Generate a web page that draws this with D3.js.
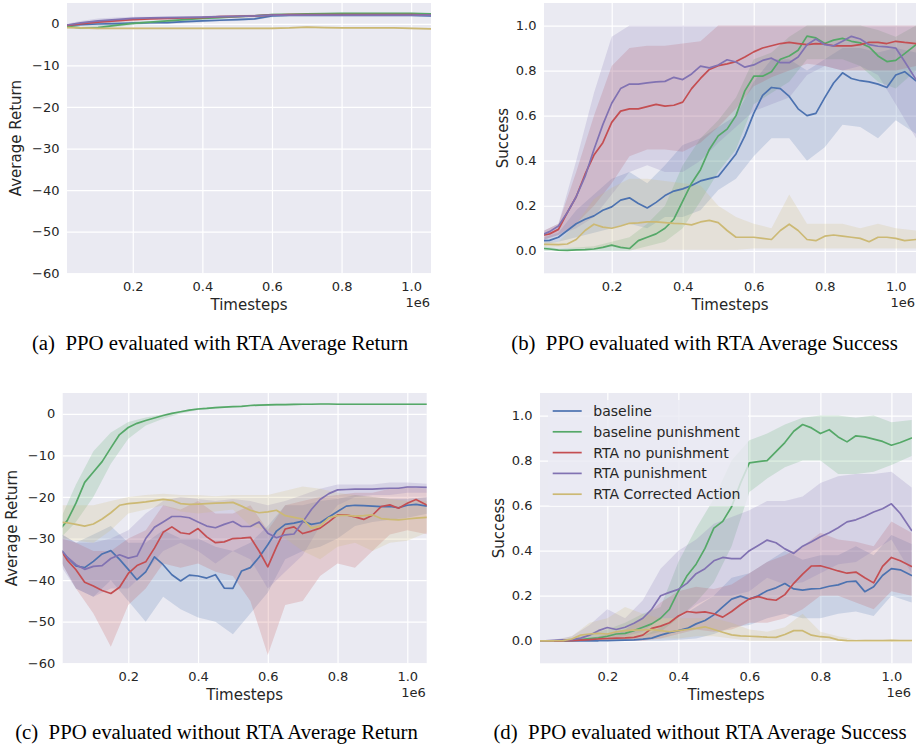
<!DOCTYPE html>
<html><head><meta charset="utf-8">
<script src="https://cdn.jsdelivr.net/npm/d3@7"></script>
<style>
body{margin:0;background:#fff;}
svg text{font-family:"DejaVu Sans",sans-serif;fill:#262626;}
</style>
</head><body>
<svg id="chart" width="916" height="747"></svg>
<script>
// ---------------- DATA ----------------
const seriesNames = ["baseline","baseline punishment","RTA no punishment","RTA punishment","RTA Corrected Action"];
const seriesColors = ["#4C72B0","#55A868","#C44E52","#8172B2","#CCB974"];
const xTickValues = [0.2,0.4,0.6,0.8,1.0];
const returnTicks = [0,-10,-20,-30,-40,-50,-60];
const successTicks = [0.0,0.2,0.4,0.6,0.8,1.0];
const captions = ["(a)\u00A0 PPO evaluated with RTA Average Return","(b)\u00A0 PPO evaluated with RTA Average Success",
                  "(c)\u00A0 PPO evaluated without RTA Average Return","(d)\u00A0 PPO evaluated without RTA Average Success"];

// timesteps (x 1e6)
const xCoarse = [0.01,0.05,0.1,0.15,0.2,0.25,0.3,0.35,0.4,0.45,0.5,0.55,0.6,0.65,0.7,0.75,0.8,0.85,0.9,0.95,1.0,1.057];
const xFine = [0.01,0.025,0.05,0.075,0.1,0.125,0.15,0.175,0.2,0.225,0.25,0.275,0.3,0.325,0.35,0.375,0.4,0.425,0.45,0.475,0.5,0.525,0.55,0.575,0.6,0.625,0.65,0.675,0.7,0.725,0.75,0.775,0.8,0.825,0.85,0.875,0.9,0.925,0.95,0.975,1.0,1.025,1.057];

// (a) with RTA, average return  (x = xCoarse)
const aBase    = [-0.4,-0.2,-0.05,0.05,0.15,0.25,0.3,0.5,0.7,0.85,1.0,1.2,1.9,2.0,2.0,2.0,2.0,2.0,2.0,2.0,2.0,1.9];
const aBaseLo  = [-0.6,-0.5,-0.4,-0.3,-0.2,-0.1,0.0,0.2,0.4,0.6,0.7,0.9,1.6,1.8,1.8,1.8,1.8,1.8,1.8,1.8,1.8,1.7];
const aBaseHi  = [-0.2,0.1,0.3,0.4,0.5,0.6,0.6,0.8,1.0,1.1,1.3,1.5,2.2,2.2,2.2,2.2,2.2,2.2,2.2,2.2,2.2,2.1];
const aPun     = [-0.6,-1.0,-0.9,-0.4,0.1,0.4,0.7,1.0,1.3,1.5,1.7,1.9,2.2,2.3,2.4,2.45,2.5,2.5,2.5,2.5,2.5,2.4];
const aPunLo   = [-0.8,-1.3,-1.3,-0.8,-0.3,0.1,0.4,0.7,1.0,1.2,1.5,1.7,2.0,2.1,2.2,2.3,2.35,2.35,2.35,2.35,2.35,2.25];
const aPunHi   = [-0.4,-0.7,-0.5,0.0,0.5,0.7,1.0,1.3,1.6,1.8,1.9,2.1,2.4,2.5,2.6,2.6,2.65,2.65,2.65,2.65,2.65,2.55];
const aNoPun   = [-0.4,0.0,0.4,0.7,1.0,1.2,1.3,1.4,1.5,1.7,1.8,1.9,2.1,2.2,2.2,2.2,2.2,2.2,2.2,2.2,2.2,2.1];
const aNoPunLo = [-0.7,-0.4,0.0,0.3,0.6,0.9,1.0,1.1,1.2,1.4,1.5,1.6,1.8,1.9,1.9,1.9,1.9,1.9,1.9,1.9,1.9,1.8];
const aNoPunHi = [-0.1,0.4,0.8,1.1,1.4,1.5,1.6,1.7,1.8,2.0,2.1,2.2,2.4,2.5,2.5,2.5,2.5,2.5,2.5,2.5,2.5,2.4];
const aRtaPun   = [-0.3,0.2,0.7,1.0,1.3,1.4,1.5,1.55,1.6,1.7,1.8,1.9,2.1,2.1,2.1,2.1,2.1,2.1,2.1,2.1,2.1,2.1];
const aRtaPunLo = [-0.6,-0.3,0.1,0.5,0.9,1.1,1.2,1.3,1.35,1.45,1.55,1.65,1.85,1.85,1.85,1.85,1.85,1.85,1.85,1.85,1.85,1.85];
const aRtaPunHi = [0.0,0.7,1.3,1.5,1.7,1.7,1.8,1.8,1.85,1.95,2.05,2.15,2.35,2.35,2.35,2.35,2.35,2.35,2.35,2.35,2.35,2.35];
const aCorr    = [-0.9,-1.0,-1.1,-1.1,-1.1,-1.1,-1.1,-1.1,-1.1,-1.1,-1.1,-1.1,-1.1,-1.0,-0.8,-0.9,-1.0,-1.0,-1.0,-1.0,-1.1,-1.2];
const aCorrLo  = [-1.1,-1.2,-1.3,-1.3,-1.3,-1.3,-1.3,-1.3,-1.3,-1.3,-1.3,-1.3,-1.3,-1.2,-1.0,-1.1,-1.2,-1.2,-1.2,-1.2,-1.3,-1.4];
const aCorrHi  = [-0.7,-0.8,-0.9,-0.9,-0.9,-0.9,-0.9,-0.9,-0.9,-0.9,-0.9,-0.9,-0.9,-0.8,-0.6,-0.7,-0.8,-0.8,-0.8,-0.8,-0.9,-1.0];

// (b) with RTA, success  (mean x = xFine, band x = xCoarse)
const bBase   = [0.045,0.046,0.06,0.09,0.12,0.14,0.155,0.18,0.195,0.225,0.235,0.21,0.19,0.215,0.245,0.265,0.275,0.29,0.31,0.32,0.33,0.38,0.43,0.51,0.61,0.69,0.725,0.72,0.685,0.63,0.60,0.61,0.68,0.745,0.79,0.765,0.755,0.75,0.74,0.725,0.78,0.795,0.755];
const bBaseLo = [0.03,0.04,0.06,0.08,0.1,0.12,0.1,0.15,0.15,0.18,0.27,0.32,0.42,0.5,0.5,0.4,0.46,0.56,0.55,0.5,0.58,0.52];
const bBaseHi = [0.06,0.08,0.18,0.25,0.32,0.35,0.3,0.38,0.47,0.5,0.55,0.6,0.75,0.85,0.85,0.8,0.85,0.9,0.9,0.88,0.9,0.88];
const bPun    = [0.01,0.008,0.003,0.002,0.004,0.005,0.008,0.015,0.025,0.015,0.01,0.045,0.06,0.075,0.10,0.14,0.22,0.30,0.36,0.45,0.51,0.54,0.60,0.71,0.775,0.775,0.795,0.85,0.865,0.89,0.953,0.945,0.92,0.935,0.943,0.93,0.923,0.905,0.865,0.84,0.845,0.875,0.915];
const bPunLo  = [0.0,0.0,0.0,0.0,0.0,0.0,0.02,0.04,0.1,0.22,0.35,0.45,0.65,0.7,0.75,0.85,0.85,0.85,0.82,0.75,0.72,0.8];
const bPunHi  = [0.02,0.01,0.015,0.02,0.04,0.06,0.12,0.2,0.38,0.5,0.58,0.68,0.85,0.88,0.95,1.0,1.0,1.0,1.0,0.98,0.95,1.0];
const bNoPun  = [0.07,0.075,0.095,0.17,0.24,0.34,0.425,0.48,0.57,0.62,0.63,0.63,0.64,0.65,0.642,0.646,0.66,0.72,0.765,0.805,0.822,0.83,0.84,0.86,0.883,0.9,0.91,0.92,0.925,0.92,0.915,0.92,0.918,0.91,0.91,0.91,0.915,0.925,0.925,0.92,0.93,0.925,0.92];
const bNoPunLo = [0.05,0.07,0.12,0.2,0.3,0.42,0.45,0.45,0.44,0.48,0.55,0.63,0.73,0.77,0.8,0.83,0.82,0.8,0.8,0.8,0.8,0.82];
const bNoPunHi = [0.09,0.12,0.35,0.6,0.82,0.9,0.91,0.91,0.92,0.93,1.0,1.0,1.0,1.0,1.0,1.0,1.0,1.0,1.0,1.0,1.0,1.0];
const bRtaPun   = [0.075,0.085,0.11,0.17,0.24,0.33,0.45,0.56,0.655,0.72,0.74,0.74,0.745,0.75,0.752,0.77,0.76,0.785,0.82,0.812,0.825,0.848,0.838,0.815,0.825,0.845,0.855,0.835,0.835,0.86,0.915,0.94,0.915,0.91,0.93,0.952,0.94,0.915,0.908,0.905,0.9,0.84,0.76];
const bRtaPunLo = [0.05,0.07,0.1,0.15,0.25,0.35,0.38,0.35,0.35,0.4,0.48,0.55,0.62,0.65,0.68,0.78,0.82,0.8,0.82,0.78,0.65,0.5];
const bRtaPunHi = [0.09,0.12,0.4,0.7,0.95,1.0,1.0,1.0,1.0,1.0,1.0,1.0,1.0,1.0,1.0,1.0,1.0,1.0,1.0,1.0,1.0,1.0];
const bCorr   = [0.028,0.028,0.027,0.03,0.05,0.09,0.118,0.105,0.1,0.11,0.122,0.124,0.128,0.128,0.125,0.122,0.12,0.115,0.128,0.135,0.125,0.09,0.06,0.06,0.06,0.055,0.05,0.09,0.118,0.09,0.05,0.045,0.065,0.07,0.065,0.06,0.055,0.04,0.06,0.06,0.055,0.045,0.05];
const bCorrLo = [0.02,0.015,0.01,0.01,0.02,0.005,0.005,0.005,0.005,0.005,0.005,0.005,0.01,0.01,0.01,0.01,0.01,0.01,0.01,0.01,0.01,0.01];
const bCorrHi = [0.04,0.04,0.12,0.23,0.28,0.32,0.32,0.31,0.3,0.29,0.2,0.15,0.12,0.1,0.25,0.12,0.12,0.12,0.1,0.12,0.1,0.09];

// (c) without RTA, average return
const cBase   = [-33.0,-34.5,-36.6,-37.0,-35.5,-33.7,-32.9,-35.0,-37.4,-39.9,-38.0,-34.4,-36.3,-38.7,-40.2,-38.8,-39.0,-39.5,-38.7,-41.9,-42.0,-37.8,-37.0,-34.5,-31.5,-28.2,-26.6,-26.3,-25.8,-26.6,-26.2,-24.8,-23.5,-22.2,-22.0,-22.1,-22.2,-22.3,-22.3,-22.6,-22.0,-21.8,-22.2];
const cBaseLo = [-36,-42,-44,-40,-45,-50,-44,-47,-49,-50,-53,-48,-43,-35,-33,-32,-30,-27,-26,-25.5,-25,-24];
const cBaseHi = [-29,-31,-29,-27,-31,-31,-28,-30,-30,-32,-33,-31,-27,-22,-22,-21,-20.5,-19.5,-20,-20.5,-20.5,-20];
const cPun    = [-27.2,-25.7,-21.5,-16.5,-14.0,-11.5,-8.2,-5.0,-3.3,-2.3,-1.6,-1.0,-0.4,0.1,0.5,0.9,1.15,1.3,1.5,1.6,1.7,1.8,2.0,2.1,2.15,2.2,2.2,2.25,2.3,2.3,2.35,2.35,2.3,2.3,2.3,2.3,2.3,2.3,2.3,2.3,2.3,2.3,2.3];
const cPunLo  = [-29.5,-26,-20,-12,-6,-2.8,-1.2,0.1,0.9,1.3,1.5,1.8,1.9,2.0,2.1,2.1,2.1,2.1,2.1,2.1,2.1,2.1];
const cPunHi  = [-24.5,-17,-9,-4.5,-2.0,-0.9,-0.1,0.7,1.4,1.7,1.9,2.2,2.4,2.4,2.5,2.5,2.5,2.5,2.5,2.5,2.5,2.5];
const cNoPun  = [-33.2,-35.2,-37.5,-40.5,-41.4,-42.5,-43.2,-41.7,-38.4,-36.5,-35.6,-32.3,-28.5,-27.2,-28.6,-28.9,-27.6,-29.6,-31.0,-30.8,-30.0,-29.9,-29.7,-33.0,-36.8,-32.0,-27.7,-27.2,-28.8,-28.2,-27.5,-26.0,-24.3,-24.3,-24.8,-25.4,-24.4,-22.3,-21.9,-22.7,-21.5,-20.6,-22.0];
const cNoPunLo = [-36,-42,-48,-56,-46,-42,-36,-37,-36,-38,-39,-45,-58,-46,-45,-39,-36,-37,-33,-29,-28,-29];
const cNoPunHi = [-30,-31,-33,-33,-30,-28,-22,-23,-21,-24,-24,-22,-28,-22,-21,-20,-19.5,-19,-19,-18,-17.5,-18];
const cRtaPun   = [-33.0,-34.5,-36.3,-37.4,-36.7,-36.5,-34.8,-33.9,-34.7,-34.2,-30.0,-27.3,-26.0,-24.7,-24.7,-25.0,-26.0,-27.0,-27.4,-26.6,-25.9,-27.1,-27.1,-26.0,-28.7,-29.8,-29.1,-28.9,-26.0,-23.0,-20.6,-19.2,-18.3,-18.2,-18.1,-18.1,-18.1,-18.0,-17.9,-17.9,-17.6,-17.6,-17.7];
const cRtaPunLo = [-37,-42,-44,-42,-42,-38,-33,-31,-33,-36,-33,-35,-42,-38,-34,-27,-22,-20,-19.5,-19.5,-19,-19];
const cRtaPunHi = [-29,-31,-31,-30,-28,-24,-21,-20,-20.5,-21,-20.5,-21,-22,-21,-19.5,-18,-17,-17,-17,-16.5,-16.5,-16.8];
const cCorr   = [-26.1,-26.2,-26.6,-27.0,-26.5,-25.3,-23.8,-22.0,-21.6,-21.4,-21.2,-20.9,-20.6,-20.8,-21.6,-21.8,-21.7,-21.6,-21.5,-21.4,-21.3,-22.2,-23.2,-23.8,-23.6,-23.2,-24.5,-24.9,-25.3,-27.5,-27.0,-25.0,-24.5,-24.4,-24.6,-24.5,-24.3,-25.2,-25.4,-25.5,-25.3,-25.1,-24.9];
const cCorrLo = [-30,-30.5,-31,-28,-24,-23,-22,-23.5,-24,-23.5,-23,-27,-28,-30,-33,-35,-32,-31,-33,-31,-30.5,-28.5];
const cCorrHi = [-22,-22,-22,-21,-20,-19.5,-19.2,-19.5,-19.5,-19.8,-19.5,-19.5,-19.5,-18.5,-17.5,-18,-19,-19.5,-20,-20.5,-21,-21];

// (d) without RTA, success
const dBase   = [0,0,0,0,0,0,0,0,0.001,0.002,0.003,0.004,0.007,0.012,0.025,0.036,0.045,0.055,0.075,0.09,0.115,0.15,0.185,0.198,0.185,0.2,0.222,0.235,0.254,0.23,0.225,0.23,0.232,0.242,0.248,0.262,0.265,0.218,0.24,0.29,0.32,0.315,0.29];
const dBaseLo = [0,0,0,0,0,0,0,0,0.005,0.01,0.03,0.06,0.07,0.1,0.12,0.1,0.1,0.12,0.13,0.11,0.2,0.17];
const dBaseHi = [0,0,0.002,0.005,0.01,0.01,0.02,0.06,0.1,0.15,0.2,0.28,0.3,0.35,0.4,0.36,0.38,0.38,0.42,0.38,0.47,0.43];
const dPun    = [0,0,0,0.001,0.002,0.005,0.01,0.013,0.02,0.03,0.033,0.045,0.06,0.075,0.1,0.14,0.22,0.29,0.34,0.41,0.5,0.53,0.595,0.70,0.79,0.795,0.80,0.84,0.88,0.93,0.96,0.945,0.92,0.937,0.905,0.883,0.91,0.905,0.895,0.885,0.868,0.88,0.90];
const dPunLo  = [0,0,0,0,0,0.005,0.02,0.04,0.1,0.17,0.26,0.42,0.66,0.72,0.77,0.8,0.8,0.74,0.74,0.75,0.78,0.82];
const dPunHi  = [0,0.002,0.01,0.03,0.05,0.08,0.12,0.15,0.35,0.5,0.63,0.8,0.89,0.92,0.96,0.99,1.0,1.0,0.99,1.0,0.97,0.98];
const dNoPun  = [0,0,0,0,0.001,0.003,0.005,0.008,0.01,0.012,0.013,0.015,0.025,0.055,0.065,0.08,0.11,0.13,0.125,0.128,0.12,0.105,0.13,0.16,0.186,0.196,0.185,0.18,0.205,0.255,0.296,0.332,0.333,0.322,0.31,0.3,0.305,0.28,0.257,0.33,0.37,0.355,0.33];
const dNoPunLo = [0,0,0,0,0,0,0,0.01,0.03,0.05,0.04,0.05,0.08,0.08,0.1,0.14,0.2,0.2,0.17,0.14,0.22,0.2];
const dNoPunHi = [0,0,0.005,0.01,0.03,0.05,0.1,0.17,0.22,0.24,0.23,0.25,0.3,0.35,0.38,0.42,0.48,0.45,0.44,0.42,0.53,0.48];
const dRtaPun   = [0,0,0.002,0.004,0.005,0.012,0.025,0.045,0.059,0.05,0.06,0.078,0.1,0.14,0.2,0.215,0.228,0.256,0.298,0.32,0.355,0.37,0.365,0.365,0.4,0.423,0.447,0.435,0.408,0.388,0.42,0.44,0.462,0.48,0.502,0.528,0.537,0.553,0.572,0.586,0.608,0.565,0.49];
const dRtaPunLo = [0,0,0,0,0.01,0.02,0.04,0.1,0.1,0.16,0.2,0.2,0.22,0.28,0.25,0.26,0.3,0.34,0.35,0.4,0.45,0.3];
const dRtaPunHi = [0,0.005,0.02,0.07,0.14,0.1,0.18,0.32,0.4,0.45,0.52,0.55,0.58,0.62,0.62,0.64,0.7,0.73,0.74,0.74,0.75,0.68];
const dCorr   = [0,0,0,0.001,0.008,0.025,0.03,0.033,0.03,0.04,0.045,0.047,0.048,0.05,0.045,0.04,0.045,0.05,0.055,0.062,0.05,0.038,0.026,0.022,0.02,0.018,0.016,0.015,0.028,0.045,0.045,0.025,0.018,0.015,0.004,0.001,0.0,0.001,0.001,0.001,0.002,0.001,0.001];
const dCorrLo = [0,0,0,0.005,0,0,0.01,0.01,0.01,0.02,0.02,0.01,0,0,0,0,0,0,0,0,0,0];
const dCorrHi = [0,0,0.02,0.08,0.1,0.15,0.12,0.1,0.1,0.1,0.1,0.08,0.05,0.04,0.06,0.12,0.04,0.02,0.005,0.003,0.003,0.002];

// ---------------- LAYOUT ----------------
const fmtReturn = d => d < 0 ? "\u2212" + (-d) : String(d);
const fmtSuccess = d3.format(".1f");
const panels = [
  {left:67, right:431, top:3, bottom:273.3, xDom:[0.011,1.057], yDom:[-60,5], yTicks:returnTicks, fmt:fmtReturn,
   ylabel:"Average Return", ylabelX:21, xs:xCoarse,
   means:[aBase,aPun,aNoPun,aRtaPun,aCorr], lo:[aBaseLo,aPunLo,aNoPunLo,aRtaPunLo,aCorrLo], hi:[aBaseHi,aPunHi,aNoPunHi,aRtaPunHi,aCorrHi],
   cap:captions[0], capX:220, capY:350},
  {left:544, right:916, top:3, bottom:273.3, xDom:[0.0093,1.057], yDom:[-0.1,1.1], yTicks:successTicks, fmt:fmtSuccess,
   ylabel:"Success", ylabelX:507.7, xs:xFine,
   means:[bBase,bPun,bNoPun,bRtaPun,bCorr], lo:[bBaseLo,bPunLo,bNoPunLo,bRtaPunLo,bCorrLo], hi:[bBaseHi,bPunHi,bNoPunHi,bRtaPunHi,bCorrHi],
   cap:captions[1], capX:704.5, capY:350},
  {left:62.7, right:426.7, top:393, bottom:663.3, xDom:[0.012,1.0556], yDom:[-60,5], yTicks:returnTicks, fmt:fmtReturn,
   ylabel:"Average Return", ylabelX:17, xs:xFine,
   means:[cBase,cPun,cNoPun,cRtaPun,cCorr], lo:[cBaseLo,cPunLo,cNoPunLo,cRtaPunLo,cCorrLo], hi:[cBaseHi,cPunHi,cNoPunHi,cRtaPunHi,cCorrHi],
   cap:captions[2], capX:216.5, capY:739},
  {left:540, right:912, top:393, bottom:663.3, xDom:[0.0104,1.058], yDom:[-0.1,1.1], yTicks:successTicks, fmt:fmtSuccess,
   ylabel:"Success", ylabelX:503.7, xs:xFine,
   means:[dBase,dPun,dNoPun,dRtaPun,dCorr], lo:[dBaseLo,dPunLo,dNoPunLo,dRtaPunLo,dCorrLo], hi:[dBaseHi,dPunHi,dNoPunHi,dRtaPunHi,dCorrHi],
   cap:captions[3], capX:700, capY:739, legend:true}
];

const svg = d3.select("#chart");
const defs = svg.append("defs");

panels.forEach((p, pi) => {
  const x = d3.scaleLinear().domain(p.xDom).range([p.left, p.right]);
  const y = d3.scaleLinear().domain(p.yDom).range([p.bottom, p.top]);
  const g = svg.append("g");
  const h = p.bottom - p.top, w = p.right - p.left;

  g.append("rect").attr("x", p.left).attr("y", p.top).attr("width", w).attr("height", h).attr("fill", "#EAEAF2");

  // grid
  g.append("g").attr("transform", `translate(0,${p.bottom})`)
    .call(d3.axisBottom(x).tickValues(xTickValues).tickSize(-h).tickFormat(""))
    .call(s => { s.select(".domain").remove(); s.selectAll("line").attr("stroke", "#fff").attr("stroke-width", 1.2); });
  g.append("g").attr("transform", `translate(${p.left},0)`)
    .call(d3.axisLeft(y).tickValues(p.yTicks).tickSize(-w).tickFormat(""))
    .call(s => { s.select(".domain").remove(); s.selectAll("line").attr("stroke", "#fff").attr("stroke-width", 1.2); });

  defs.append("clipPath").attr("id", "clip" + pi).append("rect")
    .attr("x", p.left).attr("y", p.top).attr("width", w).attr("height", h);
  const plot = g.append("g").attr("clip-path", `url(#clip${pi})`);

  const area = d3.area().x((d, j) => x(xCoarse[j])).y0(d => y(d[0])).y1(d => y(d[1]));
  p.lo.forEach((lo, k) => {
    plot.append("path").datum(d3.zip(lo, p.hi[k])).attr("d", area)
      .attr("fill", seriesColors[k]).attr("fill-opacity", 0.2).attr("stroke", "none");
  });
  const line = d3.line().x((d, j) => x(p.xs[j])).y(d => y(d));
  p.means.forEach((m, k) => {
    plot.append("path").datum(m).attr("d", line)
      .attr("fill", "none").attr("stroke", seriesColors[k]).attr("stroke-width", 1.7)
      .attr("stroke-linejoin", "round").attr("stroke-linecap", "round");
  });

  // tick labels
  g.append("g").attr("transform", `translate(0,${p.bottom})`)
    .call(d3.axisBottom(x).tickValues(xTickValues).tickSize(0).tickPadding(8.3).tickFormat(d3.format(".1f")))
    .call(s => { s.select(".domain").remove(); s.selectAll("text").attr("font-size", 13).attr("font-family", "DejaVu Sans").attr("fill", "#262626"); });
  g.append("g").attr("transform", `translate(${p.left},0)`)
    .call(d3.axisLeft(y).tickValues(p.yTicks).tickSize(0).tickPadding(7.5).tickFormat(p.fmt))
    .call(s => { s.select(".domain").remove(); s.selectAll("text").attr("font-size", 13).attr("font-family", "DejaVu Sans").attr("fill", "#262626"); });

  // axis labels
  g.append("text").attr("x", (p.left + p.right) / 2).attr("y", p.bottom + 36.2)
    .attr("text-anchor", "middle").attr("font-size", 15).text("Timesteps");
  g.append("text").attr("x", p.right - 1).attr("y", p.bottom + 33.5)
    .attr("text-anchor", "end").attr("font-size", 13).text("1e6");
  g.append("text").attr("transform", `translate(${p.ylabelX},${(p.top + p.bottom) / 2}) rotate(-90)`)
    .attr("text-anchor", "middle").attr("font-size", 15).text(p.ylabel);

  // caption
  svg.append("text").attr("x", p.capX).attr("y", p.capY).attr("text-anchor", "middle")
    .style("font-family", '"Liberation Serif","Times New Roman",serif').style("fill", "#000")
    .attr("font-size", 20.8).text(p.cap);

  if (p.legend) {
    const lg = g.append("g");
    lg.append("rect").attr("x", 548).attr("y", 400).attr("width", 200).attr("height", 106).attr("rx", 3)
      .attr("fill", "#EAEAF2").attr("fill-opacity", 0.8);
    seriesNames.forEach((n, k) => {
      const yy = 411 + k * 20.8;
      lg.append("line").attr("x1", 552.7).attr("x2", 581.7).attr("y1", yy).attr("y2", yy)
        .attr("stroke", seriesColors[k]).attr("stroke-width", 1.7);
      lg.append("text").attr("x", 593.3).attr("y", yy + 5).attr("font-size", 14).text(n);
    });
  }
});
</script>
</body></html>
